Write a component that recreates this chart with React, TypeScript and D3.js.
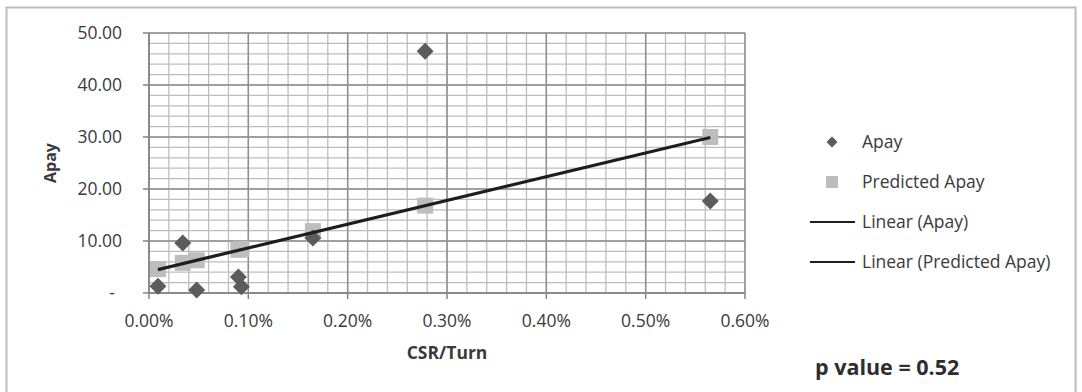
import React from "react";
import * as d3 from "d3";

// CSR/Turn values (in percent units)
const csrTurn = [0.009, 0.034, 0.048, 0.09, 0.093, 0.165, 0.278, 0.565];
// Apay observed
const apay = [1.3, 9.6, 0.6, 3.1, 1.2, 10.6, 46.5, 17.7];
// Predicted Apay
const predictedApay = [4.6, 5.8, 6.3, 8.3, 8.5, 11.9, 16.8, 30.0];

const xTicks = [0, 0.1, 0.2, 0.3, 0.4, 0.5, 0.6];
const yTicks = [0, 10, 20, 30, 40, 50];
const legendItems = ["Apay", "Predicted Apay", "Linear (Apay)", "Linear (Predicted Apay)"];
const pValueText = "p value = 0.52";

const W = 1082;
const H = 392;
const plot = { left: 149, right: 745, top: 33, bottom: 293 };
const FONT = "'Open Sans', 'DejaVu Sans', sans-serif";
const TEXT = "#3a3a3a";

function regression(xs: number[], ys: number[]) {
  const mx = d3.mean(xs)!;
  const my = d3.mean(ys)!;
  let sxy = 0;
  let sxx = 0;
  xs.forEach((x, i) => {
    sxy += (x - mx) * (ys[i] - my);
    sxx += (x - mx) * (x - mx);
  });
  const slope = sxy / sxx;
  const intercept = my - slope * mx;
  return (x: number) => intercept + slope * x;
}

export default function App() {
  const x = d3.scaleLinear().domain([0, 0.6]).range([plot.left, plot.right]);
  const y = d3.scaleLinear().domain([0, 50]).range([plot.bottom, plot.top]);

  const minorX = d3.range(0, 0.6001, 0.02);
  const minorY = d3.range(0, 50.001, 2);

  const fitA = regression(csrTurn, apay);
  const fitP = regression(csrTurn, predictedApay);
  const [xmin, xmax] = d3.extent(csrTurn) as [number, number];
  const line = d3
    .line<number[]>()
    .x((d) => x(d[0]))
    .y((d) => y(d[1]));

  const fmtX = (v: number) => d3.format(".2f")(v) + "%";
  const fmtY = (v: number) => (v === 0 ? "-" : d3.format(".2f")(v));

  const diamondPath = (cx: number, cy: number, r: number) =>
    `M${cx},${cy - r}L${cx + r},${cy}L${cx},${cy + r}L${cx - r},${cy}Z`;

  const legendX = 832;
  const legendY = [142, 182, 222, 262];

  return (
    <svg
      width={W}
      height={H}
      style={{ position: "absolute", left: 0, top: 0, background: "#fff" }}
      fontFamily={FONT}
    >
      <rect x={0} y={0} width={W} height={H} fill="#fff" />
      <rect x={6.5} y={7.5} width={1069} height={400} fill="#fff" stroke="#bcbcbc" strokeWidth={2} />

      {/* minor gridlines */}
      {minorX.map((v, i) => (
        <line key={"mx" + i} x1={x(v)} x2={x(v)} y1={plot.top} y2={plot.bottom} stroke="#bdbdbd" strokeWidth={1.3} />
      ))}
      {minorY.map((v, i) => (
        <line key={"my" + i} x1={plot.left} x2={plot.right} y1={y(v)} y2={y(v)} stroke="#bdbdbd" strokeWidth={1.3} />
      ))}
      {/* major gridlines */}
      {xTicks.map((v) => (
        <line key={"Mx" + v} x1={x(v)} x2={x(v)} y1={plot.top} y2={plot.bottom} stroke="#8f8f8f" strokeWidth={1.5} />
      ))}
      {yTicks.map((v) => (
        <line key={"My" + v} x1={plot.left} x2={plot.right} y1={y(v)} y2={y(v)} stroke="#8f8f8f" strokeWidth={1.5} />
      ))}

      {/* axes */}
      <line x1={plot.left} x2={plot.left} y1={plot.top} y2={plot.bottom} stroke="#858585" strokeWidth={1.5} />
      <line x1={plot.left} x2={plot.right} y1={plot.bottom} y2={plot.bottom} stroke="#858585" strokeWidth={1.5} />
      {xTicks.map((v) => (
        <line key={"tx" + v} x1={x(v)} x2={x(v)} y1={plot.bottom} y2={plot.bottom + 6} stroke="#858585" strokeWidth={1.5} />
      ))}
      {yTicks.map((v) => (
        <line key={"ty" + v} x1={plot.left - 6} x2={plot.left} y1={y(v)} y2={y(v)} stroke="#858585" strokeWidth={1.5} />
      ))}

      {/* tick labels */}
      {xTicks.map((v) => (
        <text key={"lx" + v} x={x(v)} y={plot.bottom + 34} textAnchor="middle" fontSize={17.5} fill={TEXT}>
          {fmtX(v)}
        </text>
      ))}
      {yTicks.map((v) => (
        <text
          key={"ly" + v}
          x={v === 0 ? 115 : 122}
          y={y(v)}
          dy="0.35em"
          textAnchor="end"
          fontSize={17.5}
          fill={TEXT}
        >
          {fmtY(v)}
        </text>
      ))}

      {/* axis titles */}
      <text
        transform={`translate(56,${(plot.top + plot.bottom) / 2}) rotate(-90)`}
        textAnchor="middle"
        fontSize={16}
        fontWeight="bold"
        fill={TEXT}
      >
        Apay
      </text>
      <text x={447} y={359} textAnchor="middle" fontSize={17.5} fontWeight="bold" fill={TEXT}>
        CSR/Turn
      </text>

      {/* predicted squares */}
      {csrTurn.map((cx, i) => (
        <rect
          key={"sq" + i}
          x={x(cx) - 8}
          y={y(predictedApay[i]) - 8}
          width={16}
          height={16}
          fill="#bdbdbd"
        />
      ))}
      {/* apay diamonds */}
      {csrTurn.map((cx, i) => (
        <path key={"dm" + i} d={diamondPath(x(cx), y(apay[i]), 8.5)} fill="#5c5c5c" />
      ))}

      {/* trendlines */}
      <path
        d={line([
          [xmin, fitP(xmin)],
          [xmax, fitP(xmax)],
        ])!}
        fill="none"
        stroke="#1e1e1e"
        strokeWidth={2.2}
      />
      <path
        d={line([
          [xmin, fitA(xmin)],
          [xmax, fitA(xmax)],
        ])!}
        fill="none"
        stroke="#1e1e1e"
        strokeWidth={2.2}
      />

      {/* legend */}
      <path d={diamondPath(legendX, legendY[0], 5.5)} fill="#5c5c5c" />
      <rect x={legendX - 6} y={legendY[1] - 6} width={12} height={12} fill="#bdbdbd" />
      <line x1={810} x2={855} y1={legendY[2]} y2={legendY[2]} stroke="#1e1e1e" strokeWidth={2} />
      <line x1={810} x2={855} y1={legendY[3]} y2={legendY[3]} stroke="#1e1e1e" strokeWidth={2} />
      {legendItems.map((t, i) => (
        <text key={t} x={862} y={legendY[i]} dy="0.35em" fontSize={17.5} fill={TEXT}>
          {t}
        </text>
      ))}

      <text x={815} y={375} fontSize={21.5} fontWeight="bold" fill="#2e2e2e">
        {pValueText}
      </text>
    </svg>
  );
}
